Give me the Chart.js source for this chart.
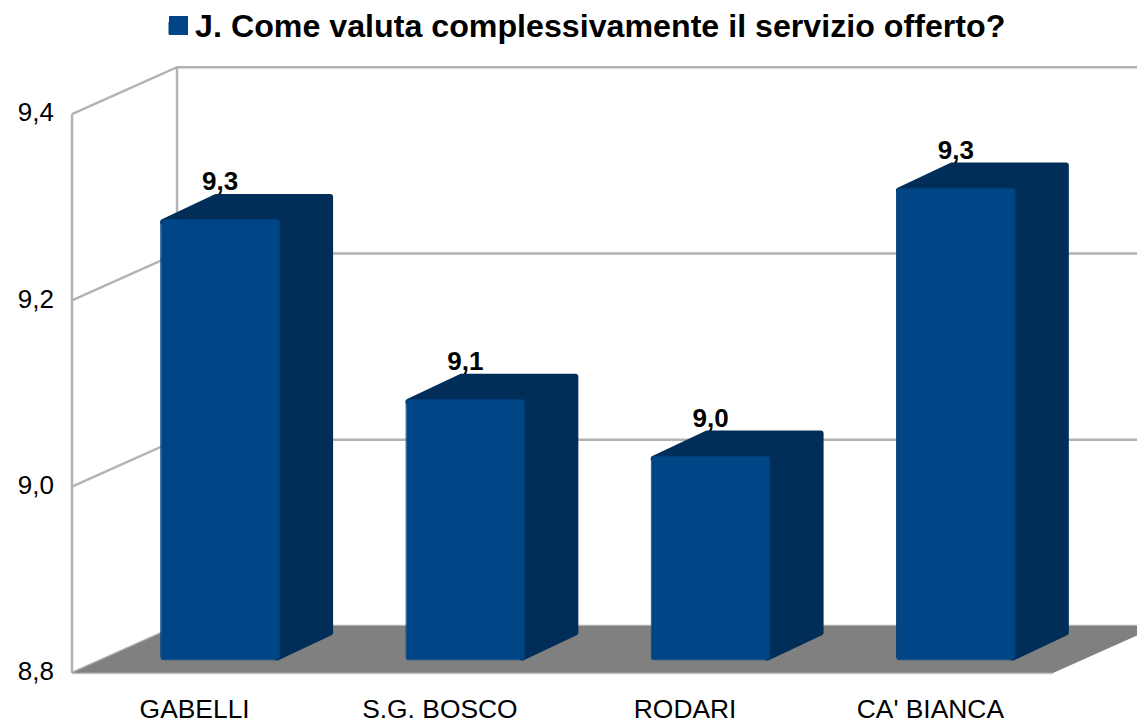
<!DOCTYPE html>
<html>
<head>
<meta charset="utf-8">
<style>html,body{margin:0;padding:0;background:#fff;overflow:hidden}canvas{display:block}</style>
<script src="https://cdn.jsdelivr.net/npm/chart.js@4"></script>
</head>
<body>
<canvas id="c" width="1137" height="721"></canvas>
<script>
const seriesName = "J. Come valuta complessivamente il servizio offerto?";
const categories = ["GABELLI", "S.G. BOSCO", "RODARI", "CA' BIANCA"];
const values = [9.274, 9.081, 9.02, 9.308];
const valueLabels = ["9,3", "9,1", "9,0", "9,3"];
const yMin = 8.8, yMax = 9.4, yStep = 0.2;
const tickValues = [8.8, 9.0, 9.2, 9.4];

const FRONT = "#004586", SIDE = "#002e59", FLOOR = "#808080", GRID = "#b3b3b3";
const FONT = "'Liberation Sans', Arial, sans-serif";
const WALL = {dx: 105, dy: -47};
const BARPLANE = {dx: 25.5, dy: -12.5};
const DEPTH = {dx: 53, dy: -25};

const canvas = document.getElementById("c");
canvas.getContext("2d", {alpha: false}).fontKerning = "none";

function poly(ctx, pts){
  ctx.beginPath();
  pts.forEach((p,i)=> i ? ctx.lineTo(p[0],p[1]) : ctx.moveTo(p[0],p[1]));
  ctx.closePath();
}

const scene3d = {
  id: "scene3d",
  afterLayout(chart){
    const lg = chart.legend;
    const dx = 169 - ((lg.left + lg.right)/2 - lg.legendHitBoxes[0].width/2);
    lg.left += dx; lg.right += dx;
    const dy = 2 - lg.top;
    lg.top += dy; lg.bottom += dy;
  },
  beforeDraw(chart){
    const ctx = chart.ctx;
    ctx.save();
    ctx.fillStyle = "#fff";
    ctx.fillRect(0,0,chart.width,chart.height);
    ctx.restore();
  },
  beforeDatasetsDraw(chart){
    const ctx = chart.ctx, y = chart.scales.y, a = chart.chartArea;
    const L = a.left, R = a.right;
    const B = y.getPixelForValue(yMin), T = y.getPixelForValue(yMax);
    ctx.save();
    // walls and grid
    ctx.strokeStyle = GRID; ctx.lineWidth = 2.5; ctx.lineJoin = "miter";
    tickValues.forEach(v=>{
      const p = y.getPixelForValue(v);
      ctx.beginPath();
      ctx.moveTo(L,p);
      ctx.lineTo(L+WALL.dx,p+WALL.dy);
      ctx.lineTo(R+WALL.dx,p+WALL.dy);
      ctx.stroke();
    });
    ctx.beginPath();
    ctx.moveTo(L,B); ctx.lineTo(L,T);
    ctx.moveTo(L+WALL.dx,B+WALL.dy); ctx.lineTo(L+WALL.dx,T+WALL.dy);
    ctx.stroke();
    // floor
    ctx.fillStyle = FLOOR;
    poly(ctx,[[L,B],[L+WALL.dx,B+WALL.dy],[R+WALL.dx,B+WALL.dy],[R,B]]);
    ctx.fill();
    ctx.strokeStyle = "#c4c4c4"; ctx.lineWidth = 1.5;
    ctx.beginPath(); ctx.moveTo(L,B+0.5); ctx.lineTo(R,B+0.5); ctx.stroke();
    // bar sides
    ctx.fillStyle = SIDE; ctx.strokeStyle = SIDE; ctx.lineWidth = 6; ctx.lineJoin = "round";
    chart.getDatasetMeta(0).data.forEach(b=>{
      const x0 = b.x - b.width/2 + BARPLANE.dx + 3, x1 = b.x + b.width/2 + BARPLANE.dx - 3;
      const t = b.y + BARPLANE.dy + 3, bt = b.base + BARPLANE.dy - 3;
      poly(ctx,[[x0,t],[x0+DEPTH.dx,t+DEPTH.dy],[x1+DEPTH.dx,t+DEPTH.dy],
                [x1+DEPTH.dx,bt+DEPTH.dy],[x1,bt],[x1,t]]);
      ctx.fill(); ctx.stroke();
    });
    ctx.restore();
    ctx.save();
    ctx.translate(BARPLANE.dx, BARPLANE.dy);
  },
  afterDatasetsDraw(chart){
    const ctx = chart.ctx;
    ctx.restore();
    ctx.save();
    ctx.fillStyle = "#000";
    ctx.font = "bold 26px " + FONT;
    ctx.textAlign = "center"; ctx.textBaseline = "middle";
    chart.getDatasetMeta(0).data.forEach((b,i)=>{
      ctx.fillText(valueLabels[i], b.x + BARPLANE.dx, b.y + BARPLANE.dy - 36);
    });
    ctx.restore();
  },
  afterDraw(chart){
    const ctx = chart.ctx;
    ctx.save();
    ctx.fillStyle = FRONT;
    ctx.fillRect(169,16,19,19);
    ctx.restore();
  }
};

new Chart(canvas, {
  type: "bar",
  data: {
    labels: categories,
    datasets: [{
      label: seriesName,
      data: values,
      base: yMin,
      backgroundColor: FRONT,
      borderColor: "#003f7a",
      borderWidth: 1,
      borderSkipped: false,
      borderRadius: 4,
      categoryPercentage: 1,
      barPercentage: 0.489,
      clip: false
    }]
  },
  options: {
    responsive: false,
    animation: false,
    layout: {padding: {top: 62, right: 84, bottom: 0, left: 0}},
    plugins: {
      tooltip: {enabled: false},
      legend: {
        position: "top",
        labels: {
          boxWidth: 10, boxHeight: 12,
          padding: 10,
          color: "#000",
          font: {family: FONT, size: 32.2, weight: "bold"}
        }
      }
    },
    scales: {
      x: {
        afterFit(s){ s.height = 48; },
        grid: {display: false, drawTicks: false},
        border: {display: false},
        ticks: {color: "#000", padding: 22, maxRotation: 0, autoSkip: false,
                font: {family: FONT, size: 26.4}}
      },
      y: {
        min: yMin, max: yMax,
        afterFit(s){ s.width = 72; },
        grid: {display: false, drawTicks: false},
        border: {display: false},
        ticks: {color: "#000", padding: 18, stepSize: yStep,
                font: {family: FONT, size: 26},
                callback: v => v.toFixed(1).replace(".", ",")}
      }
    }
  },
  plugins: [scene3d]
});
</script>
</body>
</html>
